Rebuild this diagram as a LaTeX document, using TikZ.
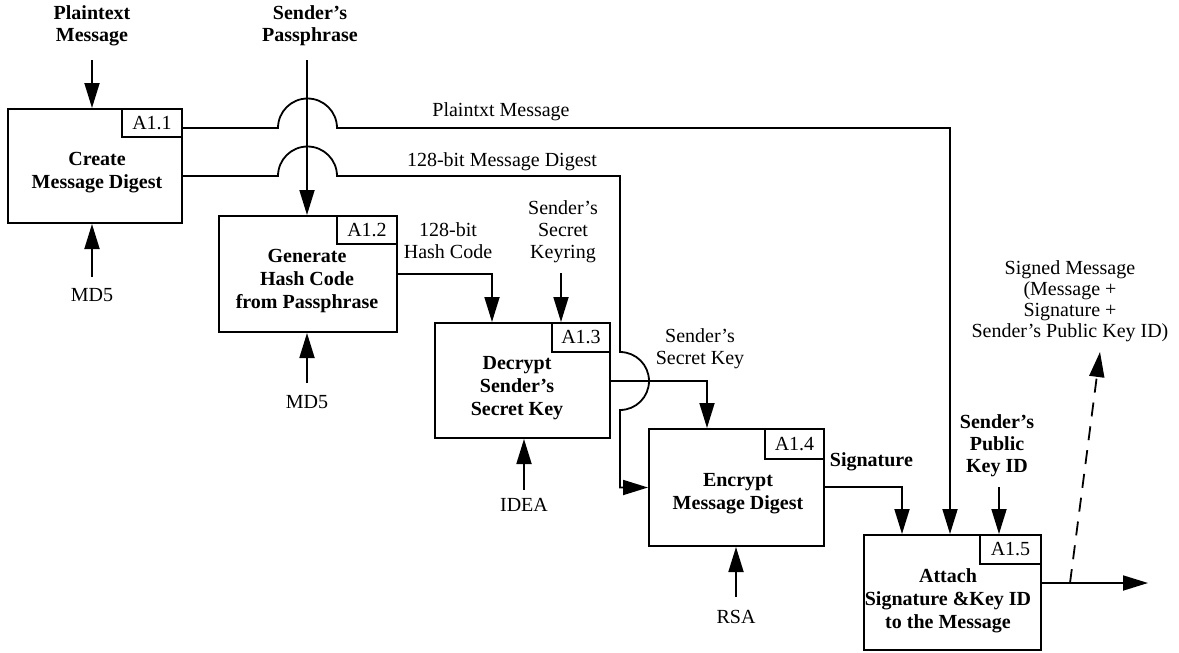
\documentclass[tikz,border=0pt]{standalone}
\usepackage{fontspec}
\setmainfont{Liberation Serif}
\usetikzlibrary{arrows.meta}
\begin{document}
\begin{tikzpicture}[x=0.5pt,y=-0.5pt,
  font=\fontsize{10}{11}\selectfont,
  line width=0.9pt,
  box/.style 2 args={draw,line width=1pt,minimum width=#1,minimum height=#2,inner sep=0pt},
  tag/.style 2 args={draw,line width=1pt,minimum width=#1,minimum height=#2,inner sep=0pt},
  title/.style={align=center,inner sep=0pt,font=\fontsize{10}{11.5}\selectfont\bfseries},
  lbl/.style={align=center,inner sep=0pt},
  blbl/.style={align=center,inner sep=0pt,font=\fontsize{10}{11}\selectfont\bfseries},
  arr/.style={-{Triangle[length=12.5pt,width=7.5pt]}},
  dsh/.style={dash pattern=on 7pt off 5pt}
]
\useasboundingbox (0,0) rectangle (1179,653);

% boxes
\node[box={87pt}{57pt}] (b1) at (95,166) {};
\node[tag={30pt}{14pt}] (t1) at (152,123) {A1.1};
\node[title] (n1) at (97,172.5) {Create\\Message Digest};

\node[box={89pt}{58pt}] (b2) at (308,274) {};
\node[tag={30pt}{14pt}] (t2) at (367,230) {A1.2};
\node[title] (n2) at (307,281.5) {Generate\\Hash Code\\from Passphrase};

\node[box={87.5pt}{57.5pt}] (b3) at (522.5,380.5) {};
\node[tag={29pt}{14.5pt}] (t3) at (581,337.5) {A1.3};
\node[title] (n3) at (517,388.5) {Decrypt\\Sender's\\Secret Key};

\node[box={87.5pt}{58.5pt}] (b4) at (736.5,487.5) {};
\node[tag={29.5pt}{15pt}] (t4) at (794.5,444) {A1.4};
\node[title] (n4) at (738,493.5) {Encrypt\\Message Digest};

\node[box={88.5pt}{57.5pt}] (b5) at (952.5,592.5) {};
\node[tag={30.5pt}{14.5pt}] (t5) at (1010.5,549.5) {A1.5};
\node[title] (n5) at (948,600.5) {Attach\\Signature \&Key ID\\to the Message};

% labels
\node[blbl] (lpt) at (92,26) {Plaintext\\Message};
\node[blbl] (lpp) at (310,26) {Sender's\\Passphrase};
\node[lbl] (lmd1) at (92,295) {MD5};
\node[lbl] (lmd2) at (307,402) {MD5};
\node[lbl] (lptm) at (501,112) {Plaintxt Message};
\node[lbl] (ldig) at (502,162) {128-bit Message Digest};
\node[lbl] (lhash) at (448,241) {128-bit\\Hash Code};
\node[lbl] (lkr) at (563,232) {Sender's\\Secret\\Keyring};
\node[lbl] (lsk) at (700,348.5) {Sender's\\Secret Key};
\node[lbl] (lidea) at (524,505) {IDEA};
\node[lbl] (lrsa) at (736,617) {RSA};
\node[blbl,anchor=west] (lsig) at (829,462) {Signature};
\node[blbl] (lpk) at (997,446) {Sender's\\Public\\Key ID};
\node[lbl,font=\fontsize{10}{10.5}\selectfont] (lsm) at (1070,301) {Signed Message\\(Message +\\Signature +\\Sender's Public Key ID)};

% coordinates
\coordinate (pin) at (92,60);
\coordinate (pp) at (307,60);
\coordinate (m1) at (92,277);
\coordinate (m2) at (307,383);
\coordinate (j1) at (950,128);
\coordinate (j2) at (620,176);
\coordinate (h) at (492,274);
\coordinate (kr) at (561,273);
\coordinate (idea) at (524,490);
\coordinate (sk) at (707,381);
\coordinate (rsa) at (736,597);
\coordinate (sg) at (902,487);
\coordinate (pk) at (999,487);
\coordinate (out) at (1148,583);
\coordinate (ds) at (1070,583);
\coordinate (de) at (1100,352);

% connectors
\draw[arr] (pin) -- (pin |- b1.north);
\draw[arr] (m1) -- (m1 |- b1.south);
\draw[arr] (pp) -- (pp |- b2.north);
\draw[arr] (m2) -- (m2 |- b2.south);
\draw[arr] (b1.east |- j1) -- (278,128) arc[start angle=180,end angle=0,radius=14.75pt] -- (j1) -- (j1 |- b5.north);
\draw[arr] (b1.east |- j2) -- (278,176) arc[start angle=180,end angle=0,radius=14.75pt] -- (j2) -- (620,352) arc[start angle=90,end angle=-90,radius=14.5pt] -- (j2 |- b4.west) -- (b4.west);
\draw[arr] (b2.east |- h) -- (h) -- (h |- b3.north);
\draw[arr] (kr) -- (kr |- b3.north);
\draw[arr] (idea) -- (idea |- b3.south);
\draw[arr] (b3.east |- sk) -- (sk) -- (sk |- b4.north);
\draw[arr] (rsa) -- (rsa |- b4.south);
\draw[arr] (b4.east |- sg) -- (sg) -- (sg |- b5.north);
\draw[arr] (pk) -- (pk |- b5.north);
\draw[arr] (b5.east |- out) -- (out);
\draw[arr,dsh] (ds) -- (de);
\end{tikzpicture}
\end{document}
